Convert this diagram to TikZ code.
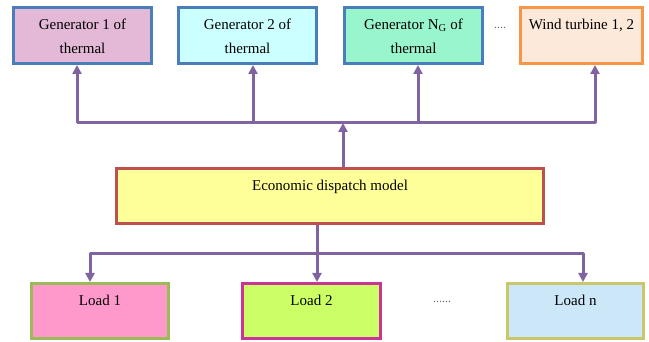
\documentclass[tikz,border=0pt]{standalone}
\usepackage{fontspec}
\setmainfont{Liberation Serif}
\usetikzlibrary{positioning,arrows.meta}

\definecolor{linkc}{HTML}{8064A2}
\definecolor{genb}{HTML}{4A7EBB}
\definecolor{genAc}{HTML}{E4B9D8}
\definecolor{genBc}{HTML}{CCFFFF}
\definecolor{genCc}{HTML}{99F5CC}
\definecolor{windb}{HTML}{F79646}
\definecolor{windc}{HTML}{FCE9DA}
\definecolor{ecob}{HTML}{C0504D}
\definecolor{ecoc}{HTML}{FFFF99}
\definecolor{loadAb}{HTML}{9BBB59}
\definecolor{loadAc}{HTML}{FF99CC}
\definecolor{loadBb}{HTML}{CC3399}
\definecolor{loadBc}{HTML}{CCFF66}
\definecolor{loadCb}{HTML}{C8C86A}
\definecolor{loadCc}{HTML}{CCE8F8}

\tikzset{
	box/.style={draw, line width=3pt, minimum height=56pt},
	gen/.style={box, draw=genb, minimum width=138pt},
	load/.style={box, minimum width=137pt, minimum height=55pt},
	txt/.style={inner sep=0pt, align=center, font=\fontsize{15}{24}\selectfont},
	dots/.style={inner sep=0pt, text=black!60, font=\fontsize{12}{12}\selectfont},
	link/.style={draw=linkc, line width=3pt, line join=round},
	arr/.style={link, -{Triangle[length=9pt,width=9pt]}},
	arrs/.style={link, {Triangle[length=9pt,width=9pt]}-{Triangle[length=9pt,width=9pt]}}
}

\begin{document}
\begin{tikzpicture}[x=1pt, y=1pt]
	\useasboundingbox[fill=white] (0,0) rectangle (649,342);

	% generators
	\node[gen, fill=genAc] (g1) at (82.5,306.5) {};
	\node[gen, fill=genBc, right=24pt of g1] (g2) {};
	\node[gen, fill=genCc, right=25pt of g2] (g3) {};
	\node[box, draw=windb, fill=windc, minimum width=122pt, right=35pt of g3] (wt) {};
	\node[txt, below=13pt of g1.north] (g1t) {Generator 1 of\\thermal};
	\node[txt, below=13pt of g2.north] (g2t) {Generator 2 of\\thermal};
	\node[txt, below=13pt of g3.north] (g3t) {Generator N\textsubscript{G} of\\thermal};
	\node[txt, below=13pt of wt.north] (wtt) {Wind turbine 1, 2};
	\node[dots] (gdots) at (500,314) {....};

	% dispatch model
	\node[box, draw=ecob, fill=ecoc, minimum width=427pt, minimum height=55pt] (eco) at (330,146) {};
	\node[txt, below=13pt of eco.north] (ecot) {Economic dispatch model};

	% loads
	\node[load, draw=loadAb, fill=loadAc] (l1) at (100,31) {};
	\node[load, draw=loadBb, fill=loadBc, minimum width=138pt, right=71pt of l1] (l2) {};
	\node[load, draw=loadCb, fill=loadCc, minimum width=136pt, right=124pt of l2] (ln) {};
	\node[txt, below=13pt of l1.north] (l1t) {Load 1};
	\node[txt, below=13pt of l2.north] (l2t) {Load 2};
	\node[txt, below=13pt of ln.north] (lnt) {Load n};
	\node[dots] (ldots) at (442,40) {......};

	% upper bus
	\coordinate (ta) at (77,219);
	\coordinate (tb) at (253,219);
	\coordinate (tc) at (418,219);
	\coordinate (td) at (595,219);
	\draw[arrs] (ta |- g1.south) -- (ta) -- (td) -- (td |- wt.south);
	\draw[arr] (tb) -- (tb |- g2.south);
	\draw[arr] (tc) -- (tc |- g3.south);
	\draw[arr] ([xshift=13pt]eco.north) -- ([xshift=13pt]eco.north |- ta);

	% lower bus
	\coordinate (ba) at (90,88);
	\coordinate (bb) at (317,88);
	\coordinate (bc) at (583,88);
	\draw[link] ([xshift=-13pt]eco.south) -- (bb);
	\draw[arrs] (ba |- l1.north) -- (ba) -- (bc) -- (bc |- ln.north);
	\draw[arr] (bb) -- (bb |- l2.north);
\end{tikzpicture}
\end{document}
